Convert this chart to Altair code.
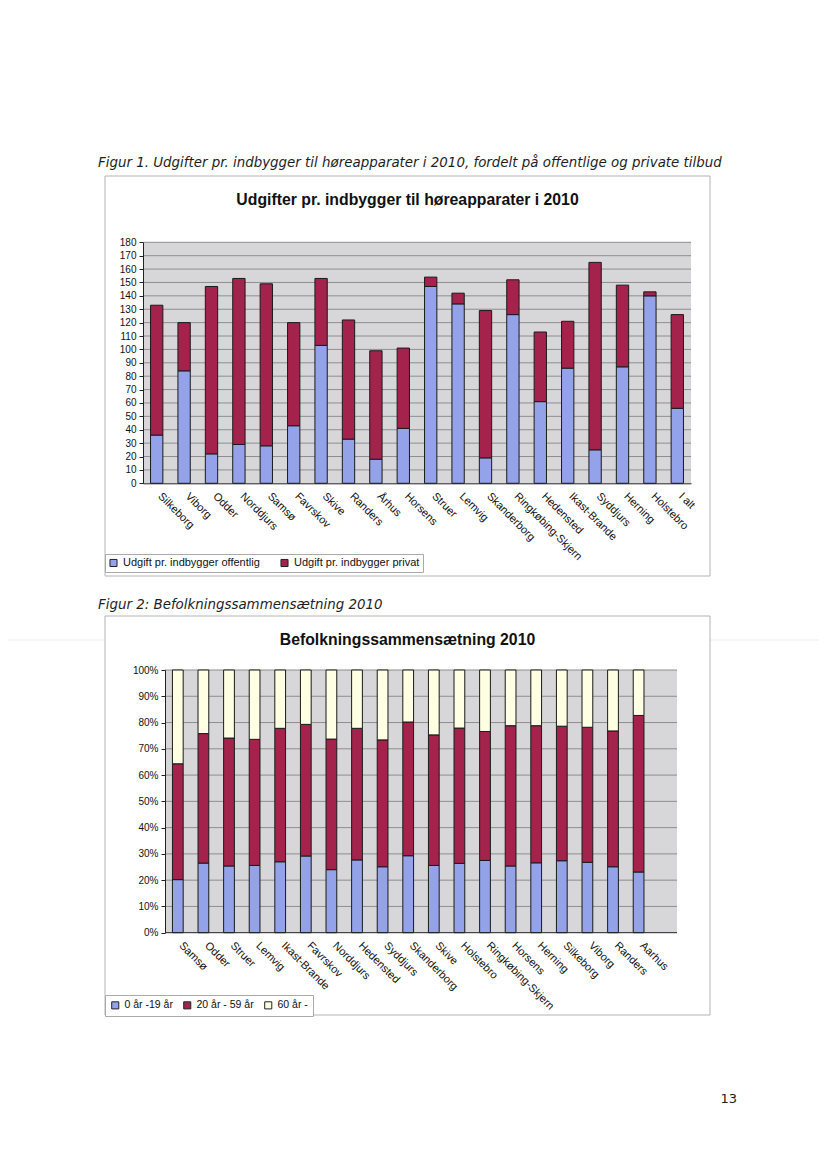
import altair as alt
import pandas as pd

# ---------------- Data: Figur 1 ----------------
kommuner1 = ["Silkeborg", "Viborg", "Odder", "Norddjurs", "Samsø", "Favrskov", "Skive",
             "Randers", "Århus", "Horsens", "Struer", "Lemvig", "Skanderborg",
             "Ringkøbing-Skjern", "Hedensted", "Ikast-Brande", "Syddjurs", "Herning",
             "Holstebro", "I alt"]
offentlig = [36, 84, 22, 29, 28, 43, 103, 33, 18, 41, 147, 134, 19, 126, 61, 86, 25, 87, 140, 56]
privat = [97, 36, 125, 124, 121, 77, 50, 89, 81, 60, 7, 8, 110, 26, 52, 35, 140, 61, 3, 70]
serier1 = ["Udgift pr. indbygger offentlig", "Udgift pr. indbygger privat"]
y1_ticks = list(range(0, 181, 10))

# ---------------- Data: Figur 2 ----------------
kommuner2 = ["Samsø", "Odder", "Struer", "Lemvig", "Ikast-Brande", "Favrskov", "Norddjurs",
             "Hedensted", "Syddjurs", "Skanderborg", "Skive", "Holstebro",
             "Ringkøbing-Skjern", "Horsens", "Herning", "Silkeborg", "Viborg", "Randers",
             "Aarhus"]
andel_0_19 = [20.2, 26.5, 25.4, 25.6, 27.0, 29.2, 24.0, 27.7, 25.1, 29.3, 25.6, 26.4, 27.5,
              25.4, 26.6, 27.4, 26.8, 25.1, 23.1]
andel_20_59 = [44.1, 49.3, 48.7, 48.0, 50.8, 50.1, 49.7, 50.1, 48.3, 50.9, 49.7, 51.5, 49.1,
               53.4, 52.2, 51.2, 51.4, 51.7, 59.6]
andel_60 = [35.7, 24.2, 25.9, 26.4, 22.2, 20.7, 26.3, 22.2, 26.6, 19.8, 24.7, 22.1, 23.4,
            21.2, 21.2, 21.4, 21.8, 23.2, 17.3]
serier2 = ["0 år -19 år", "20 år - 59 år", "60 år -"]
y2_ticks = [i / 10 for i in range(0, 11)]

# ---------------- Texts ----------------
caption1 = "Figur 1. Udgifter pr. indbygger til høreapparater i 2010, fordelt på offentlige og private tilbud"
caption2 = "Figur 2: Befolkningssammensætning 2010"
title1 = "Udgifter pr. indbygger til høreapparater i 2010"
title2 = "Befolkningssammensætning 2010"
page_no = "13"

# ---------------- Tables ----------------
df1 = pd.DataFrame({
    "Kommune": kommuner1 * 2,
    "Serie": [serier1[0]] * len(kommuner1) + [serier1[1]] * len(kommuner1),
    "Udgift": offentlig + privat,
    "rk": [0] * len(kommuner1) + [1] * len(kommuner1),
})
df2 = pd.DataFrame({
    "Kommune": kommuner2 * 3,
    "Alder": [serier2[0]] * len(kommuner2) + [serier2[1]] * len(kommuner2) + [serier2[2]] * len(kommuner2),
    "Andel": andel_0_19 + andel_20_59 + andel_60,
    "rk": [0] * len(kommuner2) + [1] * len(kommuner2) + [2] * len(kommuner2),
})
grid1_df = pd.DataFrame({"v": y1_ticks[1:]})
grid2_df = pd.DataFrame({"v": y2_ticks[1:]})
one = pd.DataFrame({"d": [0]})

# ---------------- Style ----------------
W, H = 811, 1153
BLUE = "#94a2ea"
RED = "#a3234d"
CREAM = "#ffffe3"
PLOTBG = "#d7d7d9"
GRID = "#8e8e8e"
FONT = "Liberation Sans"
CAPFONT = "DejaVu Sans"

# plot-area geometry (canvas px)
p1 = dict(x0=135, x1=683, y0=475.3, y1=234.3)
p2 = dict(x0=157, x1=669, xb=643.4, y0=924.7, y1=662)

layers = []

# faint scan line
layers.append(alt.Chart(one).mark_rule(color="#ececec", strokeWidth=1).encode(
    x=alt.value(0), x2=alt.value(W), y=alt.value(632)))

# frames
for (y0, y1) in [(168, 568), (608, 1007)]:
    layers.append(alt.Chart(one).mark_rect(fill="white", stroke="#b4b4b4", strokeWidth=1).encode(
        x=alt.value(97), x2=alt.value(702), y=alt.value(y0), y2=alt.value(y1)))

# captions
for (txt, yy) in [(caption1, 159), (caption2, 601)]:
    layers.append(alt.Chart(one).mark_text(
        align="left", baseline="alphabetic", font=CAPFONT, fontStyle="italic",
        fontSize=13.4, color="#1e1e1e").encode(
        x=alt.value(90), y=alt.value(yy), text=alt.value(txt)))

# chart titles
for (txt, yy) in [(title1, 197), (title2, 637)]:
    layers.append(alt.Chart(one).mark_text(
        align="center", baseline="alphabetic", font=FONT, fontWeight="bold",
        fontSize=15.8, color="#111").encode(
        x=alt.value(399.5), y=alt.value(yy), text=alt.value(txt)))

# ---------- Chart 1 ----------
x1scale = alt.Scale(domain=kommuner1, range=[p1["x0"], p1["x1"]], paddingInner=0.55, paddingOuter=0.275)
y1scale = alt.Scale(domain=[0, 180], range=[p1["y0"], p1["y1"]], nice=False, zero=True)

layers.append(alt.Chart(one).mark_rect(fill=PLOTBG).encode(
    x=alt.value(p1["x0"]), x2=alt.value(p1["x1"]), y=alt.value(p1["y1"]), y2=alt.value(p1["y0"])))
layers.append(alt.Chart(grid1_df).mark_rule(color=GRID, strokeWidth=1).encode(
    y=alt.Y("v:Q", scale=y1scale, axis=None),
    x=alt.value(p1["x0"]), x2=alt.value(p1["x1"])))
layers.append(alt.Chart(df1).mark_bar(stroke="#1a1a1a", strokeWidth=1).encode(
    x=alt.X("Kommune:N", sort=kommuner1, scale=x1scale,
            axis=alt.Axis(orient="bottom", offset=p1["y0"] - H, title=None, labelAngle=45,
                          labelAlign="left", labelBaseline="middle", labelFontSize=11,
                          labelPadding=11, labelOffset=3, ticks=False, domainColor="#222",
                          labelColor="#111", labelFont=FONT, zindex=2)),
    y=alt.Y("Udgift:Q", stack="zero", scale=y1scale,
            axis=alt.Axis(orient="left", offset=-p1["x0"], title=None, values=y1_ticks,
                          grid=False, tickSize=4, tickColor="#222", domainColor="#222",
                          labelFontSize=10, labelColor="#111", labelPadding=3, labelFont=FONT,
                          zindex=2)),
    color=alt.Color("Serie:N", scale=alt.Scale(domain=serier1, range=[BLUE, RED]),
                    legend=alt.Legend(orient="none", legendX=97, legendY=546, direction="horizontal",
                                      title=None, symbolType="square", symbolSize=50,
                                      symbolStrokeColor="#222", symbolStrokeWidth=1,
                                      labelFontSize=11, labelFont=FONT, labelColor="#111",
                                      labelOffset=4, columnPadding=18, padding=3,
                                      strokeColor="#aaaaaa", fillColor="white", labelLimit=300)),
    order=alt.Order("rk:Q"),
))

# ---------- Chart 2 ----------
x2scale = alt.Scale(domain=kommuner2, range=[p2["x0"], p2["xb"]], paddingInner=0.58, paddingOuter=0.29)
y2scale = alt.Scale(domain=[0, 1], range=[p2["y0"], p2["y1"]], nice=False, zero=True)

layers.append(alt.Chart(one).mark_rect(fill=PLOTBG).encode(
    x=alt.value(p2["x0"]), x2=alt.value(p2["x1"]), y=alt.value(p2["y1"]), y2=alt.value(p2["y0"])))
layers.append(alt.Chart(grid2_df).mark_rule(color=GRID, strokeWidth=1).encode(
    y=alt.Y("v:Q", scale=y2scale, axis=None),
    x=alt.value(p2["x0"]), x2=alt.value(p2["x1"])))
layers.append(alt.Chart(df2).mark_bar(stroke="#1a1a1a", strokeWidth=1).encode(
    x=alt.X("Kommune:N", sort=kommuner2, scale=x2scale,
            axis=alt.Axis(orient="bottom", offset=p2["y0"] - H, title=None, labelAngle=45,
                          labelAlign="left", labelBaseline="middle", labelFontSize=11,
                          labelPadding=11, labelOffset=3, ticks=False, domain=False,
                          labelColor="#111", labelFont=FONT, zindex=2)),
    y=alt.Y("Andel:Q", stack="normalize", scale=y2scale,
            axis=alt.Axis(orient="left", offset=-p2["x0"], title=None, values=y2_ticks,
                          format=".0%", grid=False, tickSize=4, tickColor="#222",
                          domainColor="#222", labelFontSize=10, labelColor="#111",
                          labelPadding=3, labelFont=FONT, zindex=2)),
    color=alt.Color("Alder:N", scale=alt.Scale(domain=serier2, range=[BLUE, RED, CREAM]),
                    legend=alt.Legend(orient="none", legendX=97, legendY=987, direction="horizontal",
                                      title=None, symbolType="square", symbolSize=50,
                                      symbolStrokeColor="#222", symbolStrokeWidth=1,
                                      labelFontSize=10.5, labelFont=FONT, labelColor="#111",
                                      labelOffset=4, columnPadding=8, padding=5,
                                      strokeColor="#aaaaaa", fillColor="white", labelLimit=300)),
    order=alt.Order("rk:Q"),
))
# x-axis line for chart 2 across the whole plot area
layers.append(alt.Chart(one).mark_rule(color="#222", strokeWidth=1).encode(
    x=alt.value(p2["x0"]), x2=alt.value(p2["x1"]), y=alt.value(p2["y0"])))

# page number
layers.append(alt.Chart(one).mark_text(
    align="right", baseline="alphabetic", font=CAPFONT, fontSize=13, color="#222").encode(
    x=alt.value(729), y=alt.value(1095), text=alt.value(page_no)))

chart = alt.layer(*layers).resolve_scale(
    x="independent", y="independent", color="independent"
).properties(
    width=W, height=H, autosize=alt.AutoSizeParams(type="none"), padding=0, background="white"
).configure(font=FONT).configure_view(stroke=None)

chart.save("out.html", embed_options={"renderer": "svg", "actions": False})
